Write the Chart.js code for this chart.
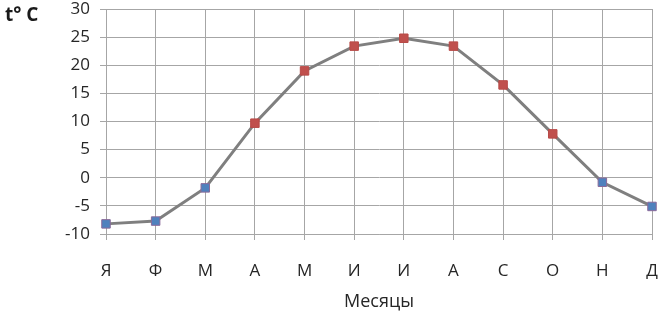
<!DOCTYPE html>
<html>
<head>
<meta charset="utf-8">
<script src="https://cdn.jsdelivr.net/npm/chart.js@4/dist/chart.umd.min.js"></script>
<style>
  html, body { margin: 0; padding: 0; background: #ffffff; }
  #wrap { width: 663px; height: 319px; }
</style>
</head>
<body>
<div id="wrap"><canvas id="c" width="663" height="319"></canvas></div>
<script>
const months = ['Я', 'Ф', 'М', 'А', 'М', 'И', 'И', 'А', 'С', 'О', 'Н', 'Д'];
const temperatures = [-8.2, -7.7, -1.8, 9.7, 19.0, 23.4, 24.8, 23.4, 16.5, 7.8, -0.8, -5.1];
const yTitle = 't° C';
const xTitle = 'Месяцы';

const FONT = "'Open Sans', 'Liberation Sans', sans-serif";

const cornerTitle = {
  id: 'cornerTitle',
  afterDraw(chart) {
    const ctx = chart.ctx;
    ctx.save();
    ctx.font = "bold 19px " + FONT;
    ctx.fillStyle = '#1a1a1a';
    ctx.textAlign = 'left';
    ctx.textBaseline = 'middle';
    ctx.fillText(yTitle, 5, 16);
    ctx.restore();
  }
};

new Chart(document.getElementById('c'), {
  type: 'line',
  data: {
    labels: months,
    datasets: [{
      data: temperatures,
      borderColor: '#7f7f7f',
      borderWidth: 3,
      tension: 0,
      pointStyle: 'rect',
      pointRadius: 6,
      pointHoverRadius: 6,
      pointBorderWidth: 1,
      pointBackgroundColor: temperatures.map(v => v < 0 ? '#4f81bd' : '#c0504d'),
      pointBorderColor: temperatures.map(v => v < 0 ? '#8a6a9a' : '#b84a47')
    }]
  },
  options: {
    responsive: false,
    animation: false,
    devicePixelRatio: 1,
    layout: { padding: { left: 0, right: 11, top: 9, bottom: 0 } },
    plugins: { legend: { display: false }, tooltip: { enabled: false } },
    scales: {
      x: {
        offset: false,
        grid: { color: '#a6a6a6', lineWidth: 1, tickLength: 6, drawTicks: true },
        border: { color: '#a6a6a6' },
        ticks: { color: '#262626', font: { family: FONT, size: 17 }, padding: 21, maxRotation: 0 },
        title: { display: true, text: xTitle, color: '#262626', font: { family: FONT, size: 18 }, padding: { top: 10, bottom: 6 } },
        afterFit(s) { s.height = 85; s.paddingLeft = 0; s.paddingRight = 0; }
      },
      y: {
        min: -10, max: 30,
        grid: { color: '#a6a6a6', lineWidth: 1, tickLength: 6 },
        border: { color: '#a6a6a6' },
        ticks: { stepSize: 5, color: '#262626', font: { family: FONT, size: 17 }, padding: 10 },
        afterFit(s) { s.width = 106; s.paddingTop = 0; s.paddingBottom = 0; }
      }
    }
  },
  plugins: [cornerTitle]
});
</script>
</body>
</html>
